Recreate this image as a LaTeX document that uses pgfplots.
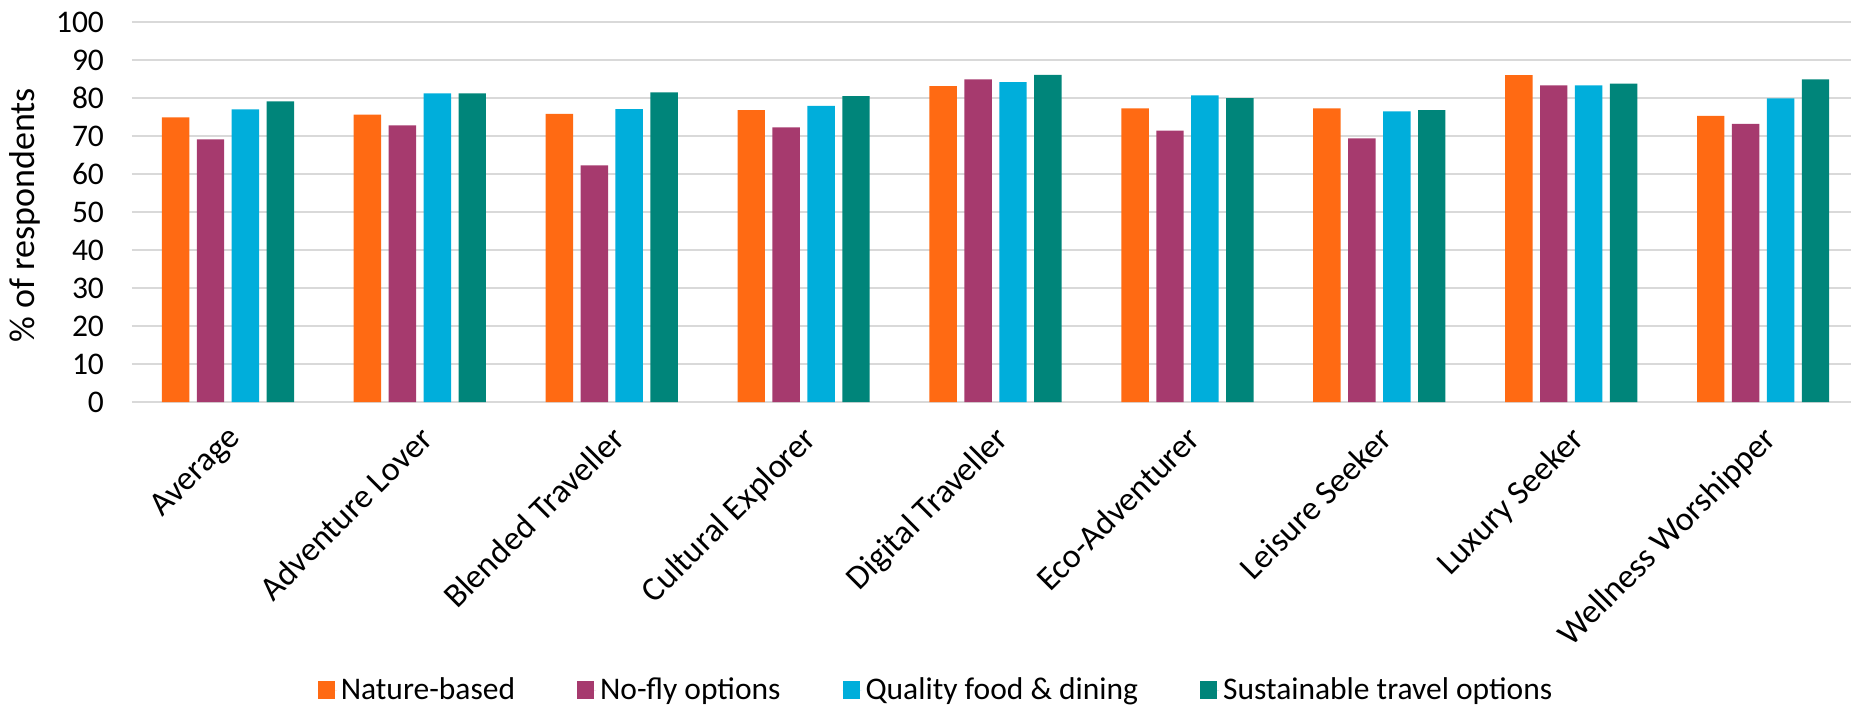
\documentclass[border=0pt]{standalone}
\usepackage{fontspec}
\setmainfont{Carlito}
\usepackage{pgfplots}
\usepackage{pgfplotstable}
\pgfplotsset{compat=1.18}

\definecolor{natorange}{HTML}{FF6A13}
\definecolor{noflyplum}{HTML}{A63A6E}
\definecolor{foodcyan}{HTML}{00AEDB}
\definecolor{susteal}{HTML}{00857A}
\definecolor{gridgrey}{HTML}{D9D9D9}

% one row per traveller type, values in % of respondents
\pgfplotstableread{
idx nature nofly food sustain
0 74.9 69.1 77.0 79.1
1 75.6 72.8 81.2 81.2
2 75.8 62.3 77.1 81.5
3 76.8 72.3 77.9 80.5
4 83.1 84.9 84.2 86.1
5 77.3 71.4 80.7 80.0
6 77.3 69.4 76.5 76.8
7 86.0 83.3 83.3 83.8
8 75.3 73.2 79.9 84.9
}\traveldata

\pgfplotsset{
  sqlegend/.style={legend image code/.code={%
    \fill[##1] (0pt,-4.5pt) rectangle (8.5pt,4.5pt);
    \path (0pt,0pt) -- (9.5pt,0pt);}},
}

\begin{document}
\begin{tikzpicture}
\useasboundingbox (0,0) rectangle (925.5pt,354pt);
\begin{axis}[
  at={(66pt,153pt)}, anchor=south west,
  scale only axis, width=859.5pt, height=190pt,
  xmin=-0.5, xmax=8.458, ymin=0, ymax=100,
  ybar, bar width=0.143,
  xtick={0,...,8},
  xticklabels={Average, Adventure Lover, Blended Traveller, Cultural Explorer,
    Digital Traveller, Eco-Adventurer, Leisure Seeker, Luxury Seeker, Wellness Worshipper},
  ytick={0,10,...,100},
  major tick length=0pt,
  axis x line=bottom, axis y line=left,
  x axis line style={gridgrey, line width=1pt, -},
  y axis line style={draw=none},
  ymajorgrids, grid style={gridgrey, line width=0.75pt},
  /pgf/number format/assume math mode=true,
  yticklabel style={font=\fontsize{15.75}{18}\selectfont, xshift=-10.5pt},
  xticklabel style={font=\fontsize{17}{20}\selectfont, xshift=-1pt, yshift=-6pt,
    rotate=45, anchor=north east},
  ylabel={\% of respondents},
  every axis y label/.style={at={(axis description cs:-0.0622,0.491)}, rotate=90, anchor=center,
    font=\fontsize{18}{21}\selectfont},
  legend columns=4,
  legend style={draw=none, fill=none, at={(0.4683,-0.758)}, anchor=center,
    font=\fontsize{15.75}{18}\selectfont,
    /tikz/every even column/.append style={column sep=29pt}},
]
\addplot[fill=natorange, draw=none, bar shift=-0.273, sqlegend] table[x=idx, y=nature] {\traveldata};
\addplot[fill=noflyplum, draw=none, bar shift=-0.091, sqlegend] table[x=idx, y=nofly] {\traveldata};
\addplot[fill=foodcyan, draw=none, bar shift=0.091, sqlegend] table[x=idx, y=food] {\traveldata};
\addplot[fill=susteal, draw=none, bar shift=0.273, sqlegend] table[x=idx, y=sustain] {\traveldata};
\legend{Nature-based, No-fly options, Quality food \& dining, Sustainable travel options}
\end{axis}
\end{tikzpicture}
\end{document}
